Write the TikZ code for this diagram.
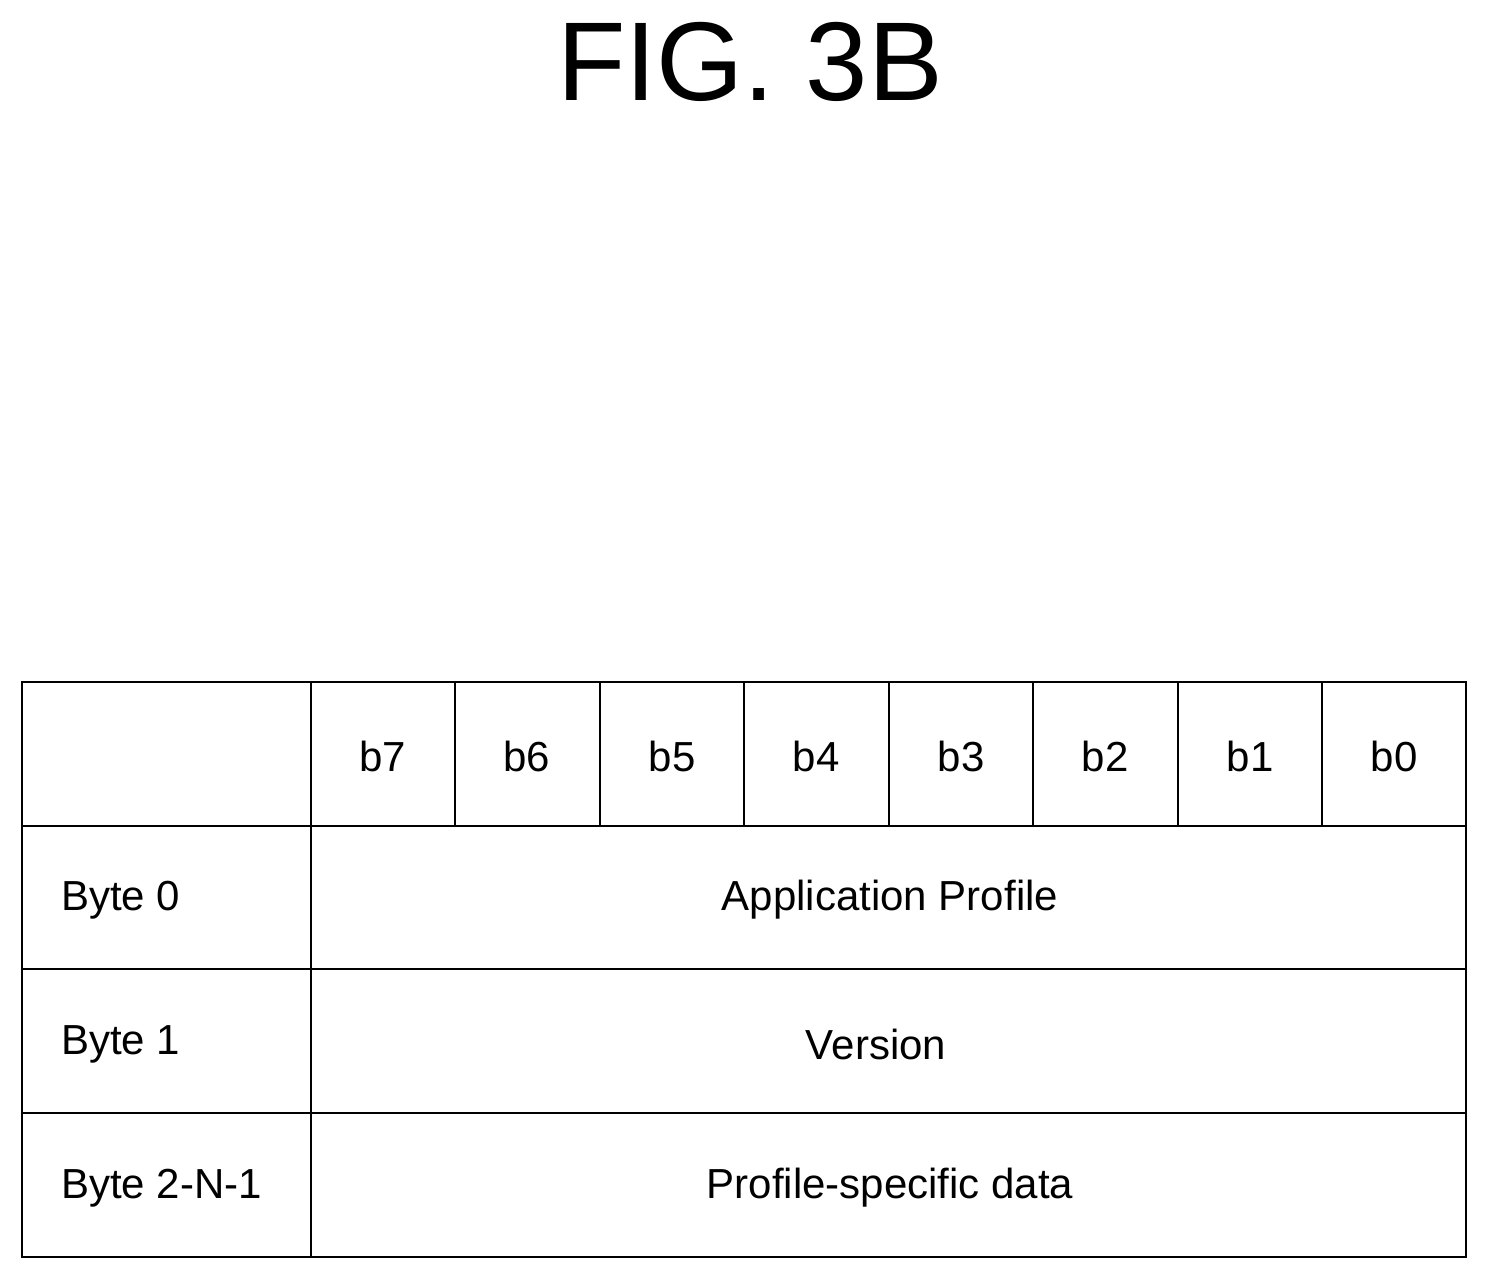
\documentclass[tikz,border=0pt]{standalone}
\usepackage{fontspec}
\setmainfont{Liberation Sans}
\begin{document}
\begin{tikzpicture}[x=1pt,y=-1pt,line width=2pt,
  cell/.style={font=\fontsize{42}{48}\selectfont,inner sep=0pt}]
\useasboundingbox (0,0) rectangle (1488,1281);
\node[font=\fontsize{112}{120}\selectfont,inner sep=0pt] (title) at (750,62) {FIG. 3B};
\draw (22,682) rectangle (1466,1257);
\foreach \y in {826,969,1113} \draw (22,\y) -- (1466,\y);
\draw (311,682) -- (311,1257);
\foreach \x in {455,600,744,889,1033,1178,1322} \draw (\x,682) -- (\x,826);
\foreach \x/\t [count=\i] in {383/b7,527/b6,672/b5,816/b4,961/b3,1105/b2,1250/b1,1394/b0}
  \node[cell] (b\i) at (\x,756) {\t};
\node[cell,anchor=west] (r0) at (60,900) {Byte 0};
\node[cell,anchor=west] (r1) at (60,1044) {Byte 1};
\node[cell,anchor=west] (r2) at (60,1188) {Byte 2-N-1};
\node[cell] (ap) at (890,900) {Application Profile};
\node[cell] (ver) at (876,1044) {Version};
\node[cell] (psd) at (890,1188) {Profile-specific data};
\end{tikzpicture}
\end{document}
